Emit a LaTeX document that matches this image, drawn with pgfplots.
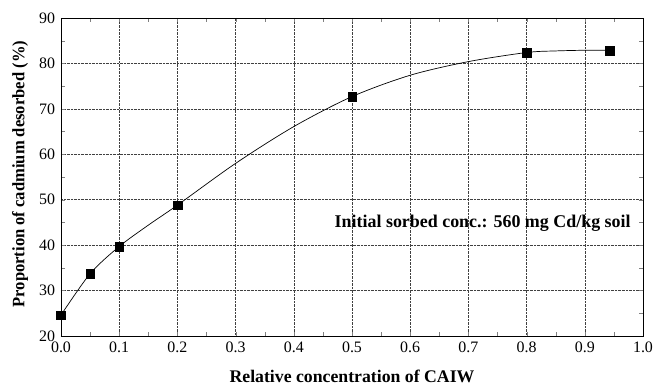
\documentclass[border=0pt]{standalone}
\usepackage{pgfplots}
\pgfplotsset{compat=1.18}
\usepackage{fontspec}
\setmainfont{Liberation Serif}
\begin{document}
\begin{tikzpicture}
\begin{axis}[
  scale only axis,
  width=582bp, height=318bp,
  xmin=0, xmax=1, ymin=20, ymax=90,
  xtick={0,0.1,...,1.0},
  ytick={20,30,...,90},
  minor x tick num=1,
  minor y tick num=1,
  tick align=inside,
  major tick length=4bp,
  minor tick length=4bp,
  /pgf/number format/assume math mode=true,
  ticklabel style={font=\fontsize{16}{18}\selectfont},
  xticklabel style={anchor=base, yshift=-17bp, /pgf/number format/fixed, /pgf/number format/fixed zerofill, /pgf/number format/precision=1},
  yticklabel style={xshift=-2.5bp},
  grid=major,
  major grid style={densely dotted, black!75, line width=0.55pt},
  axis line style={line width=0.9pt},
  xlabel={\textbf{Relative concentration of CAIW}},
  ylabel={\scalebox{0.95}[1]{\textbf{Proportion of cadmium desorbed (\%)}}},
  xlabel style={font=\fontsize{17.8}{20}\selectfont, at={(axis description cs:0.5,0)}, anchor=base, yshift=-46.5bp, inner sep=1bp},
  ylabel style={font=\fontsize{17.5}{20}\selectfont, at={(axis description cs:-0.0705,0.509)}, anchor=center, inner sep=1bp},
  clip=false,
]
% fitted curve
\addplot[black, line width=0.7pt, smooth, tension=0.5]
  coordinates {(0,24.6) (0.05,33.7) (0.1,39.7) (0.15,44.4) (0.2,48.8) (0.3,58.0) (0.4,66.1) (0.5,72.7) (0.6,77.4) (0.7,80.4) (0.8,82.4) (0.85,82.75) (0.9,82.9) (0.943,82.9)};
% measured points
\addplot[only marks, black, mark=square*, mark size=4.3bp]
  coordinates {(0,24.6) (0.05,33.7) (0.1,39.7) (0.2,48.8) (0.5,72.7) (0.8,82.4) (0.943,82.85)};
\node[font=\bfseries\fontsize{18}{20}\selectfont, anchor=base] at (axis cs:0.7245,43.8) {Initial sorbed conc.: 560 mg Cd/kg soil};
\end{axis}
\pgfresetboundingbox
\path[use as bounding box] (current axis.south west) ++(-61bp,-52bp) rectangle ([shift={(11bp,18bp)}]current axis.north east);
\end{tikzpicture}
\end{document}
